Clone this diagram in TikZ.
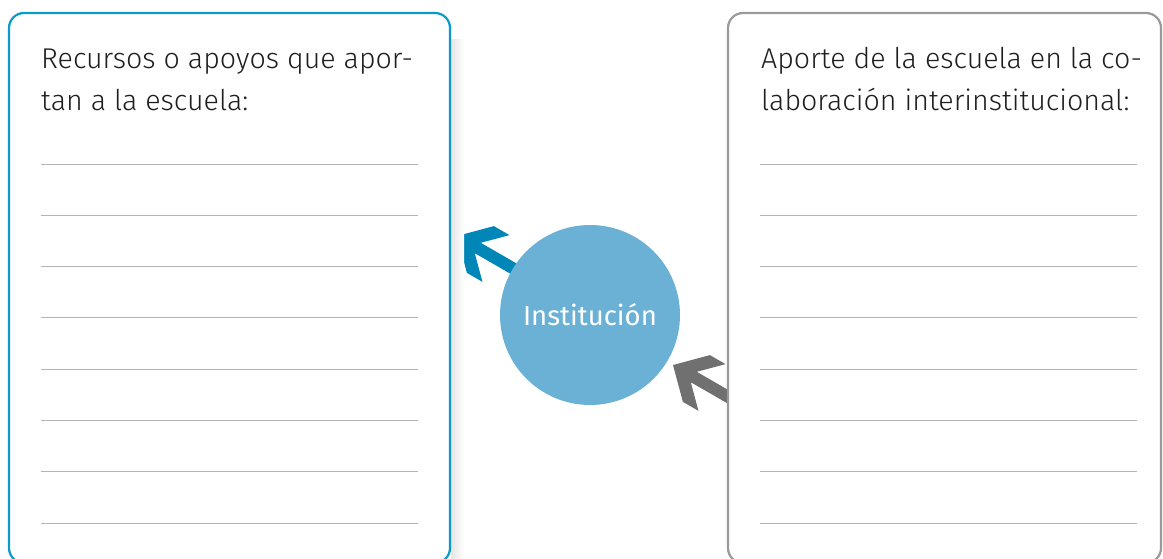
\documentclass[tikz,border=0pt]{standalone}
\usepackage{fontspec}
\setmainfont{Fira Sans}[UprightFont=* Light]
\newfontfamily\regfont{Fira Sans}
\definecolor{boxblue}{HTML}{0A9BCA}
\definecolor{boxgray}{HTML}{9A9A9A}
\definecolor{circblue}{HTML}{6BB1D6}
\definecolor{arrblue}{HTML}{0087B8}
\definecolor{arrgray}{HTML}{707070}
\definecolor{linegray}{HTML}{B4B4B4}
\tikzset{
  panel/.style={line width=2.2pt, rounded corners=15pt, fill=white},
  heading/.style={anchor=base west, inner sep=0pt, font=\fontsize{28.6}{34}\selectfont, text=black!88},
  writeline/.style={draw=linegray, line width=0.9pt},
}
\newcommand{\fatarrowshape}[3]{%
  \fill[#3, shift={(#1)}, rotate=#2]
    (0,0) -- (-27,27) -- (-45,27) -- (-24,6) -- (-80,6) -- (-80,-6)
    -- (-24,-6) -- (-45,-27) -- (-27,-27) -- cycle;}
\begin{document}
\begin{tikzpicture}[x=1pt,y=1pt]
\useasboundingbox (0,0) rectangle (1163,-559);
\clip (0,0) rectangle (1163,-559);
% arrows (behind circle and boxes)
\coordinate (tipL) at (457,-236);
\coordinate (tipR) at (673,-365);
\fatarrowshape{tipL}{150}{arrblue}
\fatarrowshape{tipR}{150}{arrgray}
% circle
\node[circle, fill=circblue, minimum size=180pt, inner sep=0pt,
      font=\regfont\fontsize{27.5}{32}\selectfont, text=white] (inst) at (590,-315) {Institución};
% shadow of left box
\shade[left color=black!10, right color=white] (451,-40) rectangle (464,-559);
% boxes
\draw[panel, draw=boxblue] (9,-13) rectangle (450,-563);
\draw[panel, draw=boxgray] (728,-13) rectangle (1161,-563);
\node[heading] (hl1) at (41,-69) {Recursos o apoyos que apor-};
\node[heading] (hl2) at (41,-111) {tan a la escuela:};
\node[heading] (hr1) at (761,-69) {Aporte de la escuela en la co-};
\node[heading] (hr2) at (761,-111) {laboración interinstitucional:};
\foreach \i in {0,...,7}{
  \draw[writeline] (41,{-164-51.3*\i}) -- (418,{-164-51.3*\i});
  \draw[writeline] (760,{-164-51.3*\i}) -- (1137,{-164-51.3*\i});
}
\end{tikzpicture}
\end{document}
